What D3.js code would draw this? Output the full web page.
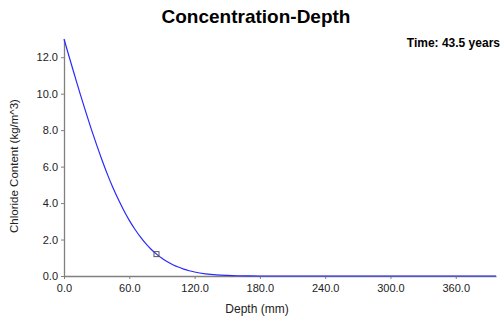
<!DOCTYPE html>
<html><head><meta charset="utf-8">
<script src="https://cdn.jsdelivr.net/npm/d3@7"></script>
<style>body{margin:0;background:#fff;}svg{display:block;font-family:Arial,"Liberation Sans",sans-serif;}</style>
</head><body><svg id="c" width="502" height="322"></svg>
<script>
const depths = [0,5,10,15,20,25,30,35,40,45,50,55,60,65,70,75,80,85,90,95,100,105,110,115,120,130,140,150,160,170,180,240,300,360,397];
const chloride = [13.0,11.97,10.96,9.96,9.0,8.07,7.19,6.35,5.56,4.84,4.19,3.59,3.05,2.58,2.16,1.79,1.47,1.2,0.97,0.78,0.62,0.49,0.38,0.29,0.22,0.12,0.06,0.03,0.013,0.005,0,0,0,0,0];
const markerDepth = [85];
const markerValue = [1.2];
const xTicks = [0,60,120,180,240,300,360];
const yTicks = [0,2,4,6,8,10,12];
const title = "Concentration-Depth";
const timeLabel = "Time: 43.5 years";
const xTitle = "Depth (mm)";
const yTitle = "Chloride Content (kg/m^3)";

const svg = d3.select("#c");
const x = d3.scaleLinear().domain([0,397]).range([64,496]);
const y = d3.scaleLinear().domain([0,13]).range([276,39]);

const xAxis = svg.append("g").attr("transform","translate(0,276)")
  .call(d3.axisBottom(x).tickValues(xTicks).tickFormat(d3.format(".1f")).tickSize(3).tickSizeOuter(0));
const yAxis = svg.append("g").attr("transform","translate(64,0)")
  .call(d3.axisLeft(y).tickValues(yTicks).tickFormat(d3.format(".1f")).tickSize(3).tickSizeOuter(0));
[xAxis,yAxis].forEach(g=>{
  g.select(".domain").attr("stroke","#808080").attr("stroke-width",1.3);
  g.selectAll(".tick line").attr("stroke","#808080");
  g.selectAll(".tick text").attr("fill","#222").style("font-size","11px").style("font-family","Arial,'Liberation Sans',sans-serif");
});
xAxis.selectAll(".tick text").attr("dy","0.95em");

const pts = depths.map((d,i)=>[d,chloride[i]]);
svg.append("path").datum(pts)
  .attr("fill","none").attr("stroke","#2a2aff").attr("stroke-width",1.2)
  .attr("d", d3.line().x(d=>x(d[0])).y(d=>y(d[1])).curve(d3.curveMonotoneX));

svg.selectAll("rect.mk").data(markerDepth).enter().append("rect").attr("class","mk")
  .attr("x",(d)=>x(d)-2.5).attr("y",(d,i)=>y(markerValue[i])-2.5)
  .attr("width",5).attr("height",5).attr("fill","none").attr("stroke","#555").attr("stroke-width",1);

svg.append("text").attr("x",256).attr("y",23).attr("text-anchor","middle")
  .style("font-size","19px").style("font-weight","bold").attr("fill","#000").text(title);
svg.append("text").attr("x",500).attr("y",47).attr("text-anchor","end")
  .style("font-size","12px").style("font-weight","bold").attr("fill","#000").text(timeLabel);
svg.append("text").attr("x",257).attr("y",313).attr("text-anchor","middle")
  .style("font-size","12px").attr("fill","#222").text(xTitle);
svg.append("text").attr("transform","translate(18,166) rotate(-90)").attr("text-anchor","middle")
  .style("font-size","11.5px").attr("fill","#222").text(yTitle);
</script></body></html>
